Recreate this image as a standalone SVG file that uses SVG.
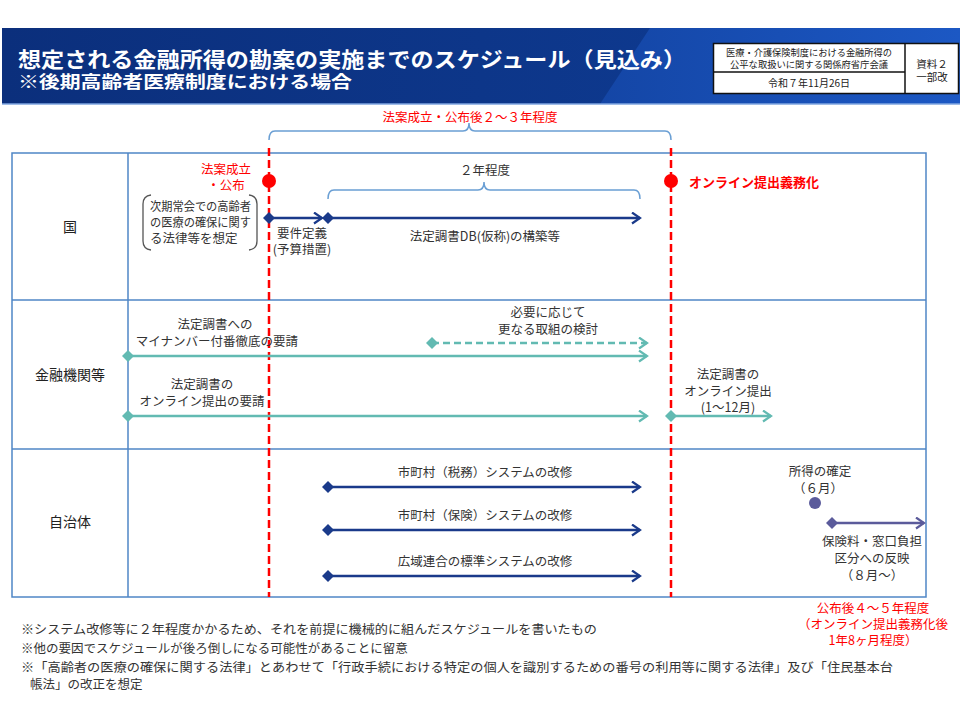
<svg xmlns="http://www.w3.org/2000/svg" width="960" height="720" viewBox="0 0 960 720">
<style>
text{font-family:"Noto Sans CJK JP","Noto Sans",sans-serif;}
.t{font-size:12.5px;fill:#333;}
.lbl{font-size:14px;fill:#222;}
.red{fill:#ff0000;font-size:12.5px;}
.redb{fill:#ff0000;font-size:13px;font-weight:bold;}
.grid{fill:none;stroke:#4f86c6;stroke-width:1.5;}
.dash{stroke:#ff0000;stroke-width:2.5;stroke-dasharray:8 4;fill:none;}
.navy{stroke:#1a3a8a;stroke-width:2.5;fill:none;}
.teal{stroke:#62bab2;stroke-width:2.5;fill:none;}
.purple{stroke:#5b5b9b;stroke-width:2.5;fill:none;}
.brace{stroke:#6a9fd4;stroke-width:1.5;fill:none;}
</style>
<defs>
<linearGradient id="hg" x1="0" y1="0" x2="1" y2="0">
<stop offset="0" stop-color="#0b2f7c"/>
<stop offset="1" stop-color="#0f3d96"/>
</linearGradient>
<linearGradient id="hg2" x1="0" y1="0" x2="1" y2="0">
<stop offset="0" stop-color="#1446a6"/>
<stop offset="1" stop-color="#1c58c4"/>
</linearGradient>
<marker id="an" markerUnits="userSpaceOnUse" markerWidth="14" markerHeight="14" refX="9" refY="6" orient="auto"><path d="M1,0.5 L9,6 L1,11.5" fill="none" stroke="#1a3a8a" stroke-width="2.2"/></marker>
<marker id="at" markerUnits="userSpaceOnUse" markerWidth="14" markerHeight="14" refX="9" refY="6" orient="auto"><path d="M1,0.5 L9,6 L1,11.5" fill="none" stroke="#62bab2" stroke-width="2.2"/></marker>
<marker id="ap" markerUnits="userSpaceOnUse" markerWidth="14" markerHeight="14" refX="9" refY="6" orient="auto"><path d="M1,0.5 L9,6 L1,11.5" fill="none" stroke="#5b5b9b" stroke-width="2.2"/></marker>
<marker id="dn" markerUnits="userSpaceOnUse" markerWidth="14" markerHeight="14" refX="7" refY="7" orient="auto"><path d="M1,7 L7,1 L13,7 L7,13 Z" fill="#1a3a8a"/></marker>
<marker id="dt" markerUnits="userSpaceOnUse" markerWidth="14" markerHeight="14" refX="7" refY="7" orient="auto"><path d="M1,7 L7,1 L13,7 L7,13 Z" fill="#62bab2"/></marker>
<marker id="dp" markerUnits="userSpaceOnUse" markerWidth="14" markerHeight="14" refX="7" refY="7" orient="auto"><path d="M1,7 L7,1 L13,7 L7,13 Z" fill="#5b5b9b"/></marker>
</defs>
<rect width="960" height="720" fill="#ffffff"/>
<g id="header">
<rect x="2" y="28" width="958" height="76" fill="url(#hg)"/>
<polygon points="650,28 960,28 960,104 600,104" fill="url(#hg2)"/>
<line x1="2" y1="104" x2="960" y2="104" stroke="#7fa6e0" stroke-width="1.5"/>
<text x="18" y="67" font-size="21" font-weight="bold" fill="#ffffff" textLength="668" lengthAdjust="spacingAndGlyphs">想定される金融所得の勘案の実施までのスケジュール（見込み）</text>
<text x="18" y="88" font-size="17" font-weight="bold" fill="#ffffff" textLength="334" lengthAdjust="spacingAndGlyphs">※後期高齢者医療制度における場合</text>
</g>
<g id="infobox">
<rect x="713.5" y="43.5" width="245" height="50" fill="#ffffff" stroke="#111" stroke-width="1.5"/>
<line x1="905" y1="43.5" x2="905" y2="93.5" stroke="#111" stroke-width="1.5"/>
<line x1="713.5" y1="72" x2="905" y2="72" stroke="#111" stroke-width="1.5"/>
<text x="809" y="56" font-size="9.5" fill="#222" text-anchor="middle" textLength="166" lengthAdjust="spacingAndGlyphs">医療・介護保険制度における金融所得の</text>
<text x="809" y="68" font-size="9.5" fill="#222" text-anchor="middle" textLength="158" lengthAdjust="spacingAndGlyphs">公平な取扱いに関する関係府省庁会議</text>
<text x="809" y="87" font-size="10" fill="#222" text-anchor="middle">令和７年11月26日</text>
<text x="932" y="68" font-size="10.5" fill="#222" text-anchor="middle">資料２</text>
<text x="932" y="81" font-size="10.5" fill="#222" text-anchor="middle">一部改</text>
</g>
<g id="table">
<rect x="12" y="153" width="914" height="444" class="grid"/>
<line x1="128" y1="153" x2="128" y2="597" class="grid"/>
<line x1="12" y1="300" x2="926" y2="300" class="grid"/>
<line x1="12" y1="449" x2="926" y2="449" class="grid"/>
</g>
<g id="row-labels">
<text x="70" y="232" class="lbl" text-anchor="middle">国</text>
<text x="70" y="380" class="lbl" text-anchor="middle">金融機関等</text>
<text x="70" y="527" class="lbl" text-anchor="middle">自治体</text>
</g>
<g id="connectors">
<line x1="269" y1="148" x2="269" y2="597" class="dash"/>
<line x1="671" y1="148" x2="671" y2="597" class="dash"/>
<path d="M269,140 Q269,131 275,131 L463,131 Q469,131 469,123 Q469,131 475,131 L665,131 Q671,131 671,140" class="brace"/>
<path d="M328,199 Q328,190 334,190 L478,190 Q484,190 484,182 Q484,190 490,190 L634,190 Q640,190 640,199" class="brace"/>
<line x1="269" y1="218" x2="322" y2="218" class="navy" marker-start="url(#dn)" marker-end="url(#an)"/>
<line x1="328" y1="218" x2="640" y2="218" class="navy" marker-start="url(#dn)" marker-end="url(#an)"/>
<line x1="128" y1="356" x2="647" y2="356" class="teal" marker-start="url(#dt)" marker-end="url(#at)"/>
<line x1="432" y1="343" x2="647" y2="343" class="teal" stroke-dasharray="7 4" marker-start="url(#dt)" marker-end="url(#at)"/>
<line x1="128" y1="416" x2="647" y2="416" class="teal" marker-start="url(#dt)" marker-end="url(#at)"/>
<line x1="671" y1="416" x2="771" y2="416" class="teal" marker-start="url(#dt)" marker-end="url(#at)"/>
<line x1="328" y1="487" x2="640" y2="487" class="navy" marker-start="url(#dn)" marker-end="url(#an)"/>
<line x1="328" y1="530" x2="640" y2="530" class="navy" marker-start="url(#dn)" marker-end="url(#an)"/>
<line x1="328" y1="576" x2="640" y2="576" class="navy" marker-start="url(#dn)" marker-end="url(#an)"/>
<line x1="832" y1="523" x2="924" y2="523" class="purple" marker-start="url(#dp)" marker-end="url(#ap)"/>
</g>
<g id="top-span">
<text x="470" y="122" class="red" text-anchor="middle">法案成立・公布後２～３年程度</text>
</g>
<g id="enactment">
<circle cx="269" cy="181" r="7" fill="#ff0000"/>
<text x="226" y="174" class="red" text-anchor="middle">法案成立</text>
<text x="226" y="190" class="red" text-anchor="middle">・公布</text>
</g>
<g id="assumption">
<path d="M151,195 Q143,196 143,204 L143,241 Q143,249 151,250" fill="none" stroke="#555" stroke-width="1.3"/>
<path d="M249,195 Q257,196 257,204 L257,241 Q257,249 249,250" fill="none" stroke="#555" stroke-width="1.3"/>
<text x="150" y="211" class="t" font-size="12" textLength="101" lengthAdjust="spacingAndGlyphs">次期常会での高齢者</text>
<text x="150" y="227" class="t" font-size="12" textLength="101" lengthAdjust="spacingAndGlyphs">の医療の確保に関す</text>
<text x="150" y="243" class="t" font-size="12">る法律等を想定</text>
</g>
<g id="requirements">
<text x="302" y="238" class="t" text-anchor="middle">要件定義</text>
<text x="302" y="254" class="t" text-anchor="middle">(予算措置)</text>
</g>
<g id="two-years">
<text x="485" y="175" class="t" text-anchor="middle">２年程度</text>
</g>
<g id="db-build">
<text x="485" y="241" class="t" text-anchor="middle">法定調書DB(仮称)の構築等</text>
</g>
<g id="online-mandate">
<circle cx="671" cy="181" r="7" fill="#ff0000"/>
<text x="689" y="187" class="redb">オンライン提出義務化</text>
</g>
<g id="mynumber">
<text x="215" y="329" class="t" text-anchor="middle">法定調書への</text>
<text x="217" y="346" class="t" text-anchor="middle">マイナンバー付番徹底の要請</text>
</g>
<g id="further">
<text x="548" y="317" class="t" text-anchor="middle">必要に応じて</text>
<text x="548" y="334" class="t" text-anchor="middle">更なる取組の検討</text>
</g>
<g id="online-request">
<text x="202" y="389" class="t" text-anchor="middle">法定調書の</text>
<text x="202" y="406" class="t" text-anchor="middle">オンライン提出の要請</text>
</g>
<g id="online-submit">
<text x="728" y="379" class="t" text-anchor="middle">法定調書の</text>
<text x="728" y="396" class="t" text-anchor="middle">オンライン提出</text>
<text x="728" y="412" class="t" text-anchor="middle">(1～12月)</text>
</g>
<g id="tax-system">
<text x="485" y="477" class="t" text-anchor="middle">市町村（税務）システムの改修</text>
</g>
<g id="ins-system">
<text x="485" y="520" class="t" text-anchor="middle">市町村（保険）システムの改修</text>
</g>
<g id="regional-system">
<text x="485" y="566" class="t" text-anchor="middle">広域連合の標準システムの改修</text>
</g>
<g id="income-confirm">
<text x="820" y="476" class="t" text-anchor="middle">所得の確定</text>
<text x="818" y="493" class="t" text-anchor="middle">（６月）</text>
<circle cx="815" cy="503" r="6" fill="#5b5b9b"/>
</g>
<g id="reflect">
<text x="872" y="546" class="t" text-anchor="middle">保険料・窓口負担</text>
<text x="872" y="563" class="t" text-anchor="middle">区分への反映</text>
<text x="872" y="580" class="t" text-anchor="middle">（８月～）</text>
</g>
<g id="after-period">
<text x="873" y="613" class="red" text-anchor="middle">公布後４～５年程度</text>
<text x="873" y="629" class="red" text-anchor="middle">（オンライン提出義務化後</text>
<text x="873" y="645" class="red" text-anchor="middle">1年8ヶ月程度）</text>
</g>
<g id="notes">
<text x="21" y="634" class="t" font-size="13" fill="#222" textLength="576" lengthAdjust="spacingAndGlyphs">※システム改修等に２年程度かかるため、それを前提に機械的に組んだスケジュールを書いたもの</text>
<text x="21" y="653" class="t" font-size="13" fill="#222">※他の要因でスケジュールが後ろ倒しになる可能性があることに留意</text>
<text x="21" y="672" class="t" font-size="13" fill="#222" textLength="872" lengthAdjust="spacingAndGlyphs">※「高齢者の医療の確保に関する法律」とあわせて「行政手続における特定の個人を識別するための番号の利用等に関する法律」及び「住民基本台</text>
<text x="30" y="689" class="t" font-size="13" fill="#222">帳法」の改正を想定</text>
</g>
</svg>
